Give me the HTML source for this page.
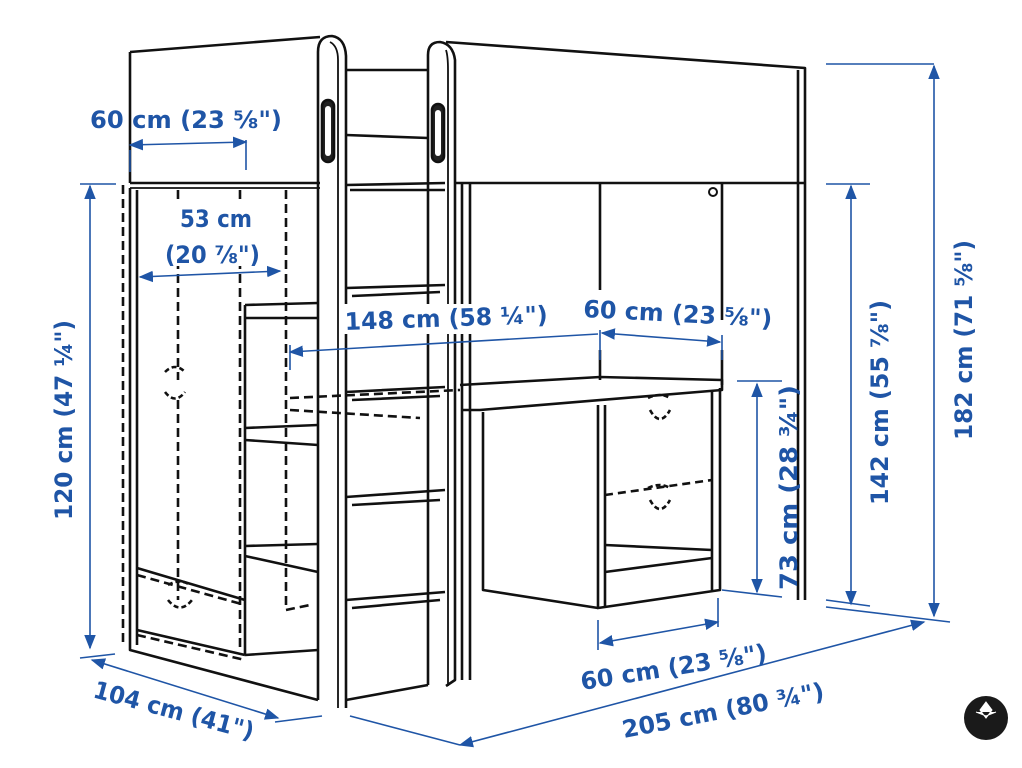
<!DOCTYPE html>
<html><head><meta charset="utf-8"><style>
html,body{margin:0;padding:0;background:#fff;}
svg{display:block}
.t{font-family:"DejaVu Sans","Liberation Sans",sans-serif;font-weight:bold;fill:#1f55a6;font-size:24px}
</style></head><body>
<svg width="1022" height="768" viewBox="0 0 1022 768" xmlns="http://www.w3.org/2000/svg">
<defs>
<marker id="a" viewBox="0 0 10 10" refX="9" refY="5" markerWidth="9" markerHeight="9" orient="auto-start-reverse"><path d="M0,1 L10,5 L0,9 z" fill="#1f55a6"/></marker>
</defs>
<g fill="none" stroke="#111" stroke-width="2.6" stroke-linejoin="round">
<path d="M130,52 L320,37"/>
<path d="M130,52 L130,183"/>
<path d="M130,183 L320,183" />
<path d="M130,188 L320,188" stroke-width="1.8"/>
<path d="M318,700 L318,52 Q318,36 332,36 Q345,38 346,56 L346,708"/>
<path d="M330,42 Q338,46 338,60 L338,708" stroke-width="1.8"/>
<rect x="322" y="100" width="12" height="62" rx="6" fill="#222"/>
<rect x="325" y="106" width="6" height="50" rx="3" fill="#fff" stroke="none"/>
<path d="M130,188 L130,650 L318,700"/>
<path d="M137,190 L137,645"/>
<path d="M123,185 L123,645" stroke-dasharray="9,5"/>
<path d="M178,190 L178,380 M178,400 L178,600" stroke-dasharray="9,5"/>
<path d="M240,190 L240,650" stroke-dasharray="9,5"/>
<path d="M245,305 L245,655"/>
<path d="M286,190 L286,610 L310,605" stroke-dasharray="9,5"/>
<path d="M137,568 L245,600 M137,630 L245,655"/>
<path d="M137,575 L245,605 M137,635 L245,660" stroke-dasharray="9,5"/>
<path d="M245,305 L318,303 M245,318 L318,318 M245,428 L318,425 M245,440 L318,445 M245,546 L318,544 M245,556 L318,572 M245,655 L318,650"/>
<path d="M346,185 L445,183 M350,190 L445,190"/>
<path d="M346,288 L445,285 M352,296 L440,292"/>
<path d="M346,392 L445,387 M352,400 L440,396"/>
<path d="M346,497 L445,490 M352,505 L440,500"/>
<path d="M346,600 L445,592 M352,608 L440,600"/>
<path d="M346,70 L428,70 M346,135 L428,138"/>
<path d="M428,685 L428,55 Q428,42 440,42 Q453,44 455,60 L455,680 L446,686"/>
<path d="M446,50 Q448,56 448,70 L448,686" stroke-width="1.8"/>
<rect x="432" y="104" width="12" height="58" rx="6" fill="#222"/>
<rect x="435" y="110" width="6" height="46" rx="3" fill="#fff" stroke="none"/>
<path d="M346,700 L428,685"/>
<path d="M446,42 L805,68 L805,600"/>
<path d="M798,70 L798,600"/>
<path d="M455,183 L805,183"/>
<path d="M470,183 L470,680 M462,183 L462,680"/>
<path d="M600,183 L600,290 M600,350 L600,380"/>
<path d="M722,183 L722,320 M722,350 L722,385"/>
<circle cx="713" cy="192" r="4" stroke-width="2"/>
<path d="M460,385 L600,377 L722,380 L722,390 L480,410 L462,410"/>
<path d="M290,398 L460,390 M290,410 L420,418" stroke-dasharray="9,5"/>
<path d="M483,412 L483,590 L598,608"/>
<path d="M598,405 L598,608 L720,590 L720,388"/>
<path d="M605,405 L605,608 M712,390 L712,590"/>
<path d="M605,545 L712,550 M605,572 L712,558"/>
<path d="M605,495 L712,480" stroke-dasharray="8,5"/>
<path d="M648,398 Q660,392 670,398 M650,410 Q660,428 670,410" stroke-dasharray="5,3"/>
<path d="M648,488 Q660,482 670,488 M650,500 Q660,518 670,500" stroke-dasharray="5,3"/>
<path d="M165,372 Q175,362 185,372 M165,392 Q175,405 185,392" stroke-dasharray="5,3"/>
<path d="M168,585 Q180,578 190,585 M168,600 Q180,615 192,600" stroke-dasharray="5,3"/>
</g>
<rect x="160" y="200" width="105" height="66" fill="#fff"/>
<rect x="342" y="304" width="208" height="30" fill="#fff"/>
<g stroke="#1f55a6" stroke-width="1.6" fill="none">
<path d="M130,145 L246,142" marker-start="url(#a)" marker-end="url(#a)"/>
<path d="M130,150 L130,172 M246,140 L246,170"/>
<path d="M140,277 L280,271" marker-start="url(#a)" marker-end="url(#a)"/>
<path d="M290,352 L598,334" marker-start="url(#a)"/>
<path d="M290,345 L290,370 M600,330 L600,360 M722,335 L722,360"/>
<path d="M602,333 L720,342" marker-start="url(#a)" marker-end="url(#a)"/>
<path d="M90,186 L90,648" marker-start="url(#a)" marker-end="url(#a)"/>
<path d="M80,184 L116,184 M80,658 L115,654"/>
<path d="M92,660 L278,718" marker-start="url(#a)" marker-end="url(#a)"/>
<path d="M275,722 L322,716"/>
<path d="M350,716 L460,745"/>
<path d="M460,745 L924,622" marker-start="url(#a)" marker-end="url(#a)"/>
<path d="M598,620 L598,650 M718,598 L718,627"/>
<path d="M600,643 L718,622" marker-start="url(#a)" marker-end="url(#a)"/>
<path d="M737,381 L782,381 M722,590 L782,597"/>
<path d="M757,384 L757,592" marker-start="url(#a)" marker-end="url(#a)"/>
<path d="M826,184 L870,184 M826,600 L870,606"/>
<path d="M851,186 L851,604" marker-start="url(#a)" marker-end="url(#a)"/>
<path d="M826,64 L934,64 M826,607 L950,622"/>
<path d="M934,66 L934,616" marker-start="url(#a)" marker-end="url(#a)"/>
</g>
<text class="t" x="90" y="128" textLength="192" lengthAdjust="spacingAndGlyphs">60 cm (23 ⅝")</text>
<text class="t" x="180" y="227" textLength="72" lengthAdjust="spacingAndGlyphs">53 cm</text>
<text class="t" x="165" y="263" textLength="95" lengthAdjust="spacingAndGlyphs">(20 ⅞")</text>
<text class="t" x="345" y="330" transform="rotate(-2 345 330)" textLength="203" lengthAdjust="spacingAndGlyphs">148 cm (58 ¼")</text>
<text class="t" x="583" y="317" transform="rotate(3 583 317)" textLength="189" lengthAdjust="spacingAndGlyphs">60 cm (23 ⅝")</text>
<text class="t" transform="translate(72,520) rotate(-90)" textLength="200" lengthAdjust="spacingAndGlyphs">120 cm (47 ¼")</text>
<text class="t" transform="translate(797,590) rotate(-90)" textLength="205" lengthAdjust="spacingAndGlyphs">73 cm (28 ¾")</text>
<text class="t" transform="translate(888,505) rotate(-90)" textLength="205" lengthAdjust="spacingAndGlyphs">142 cm (55 ⅞")</text>
<text class="t" transform="translate(972,440) rotate(-90)" textLength="200" lengthAdjust="spacingAndGlyphs">182 cm (71 ⅝")</text>
<text class="t" transform="translate(582,690) rotate(-9)" textLength="188" lengthAdjust="spacingAndGlyphs">60 cm (23 ⅝")</text>
<text class="t" transform="translate(624,738) rotate(-11)" textLength="205" lengthAdjust="spacingAndGlyphs">205 cm (80 ¾")</text>
<text class="t" transform="translate(92,697) rotate(15)" textLength="165" lengthAdjust="spacingAndGlyphs">104 cm (41")</text>
<circle cx="986" cy="718" r="22" fill="#1a1a1a"/>
<path d="M986,702 L992,710 L986,718 L980,710 z M976,712 L986,716 L996,712" fill="#fff" stroke="#fff" stroke-width="1"/>
</svg>
</body></html>
